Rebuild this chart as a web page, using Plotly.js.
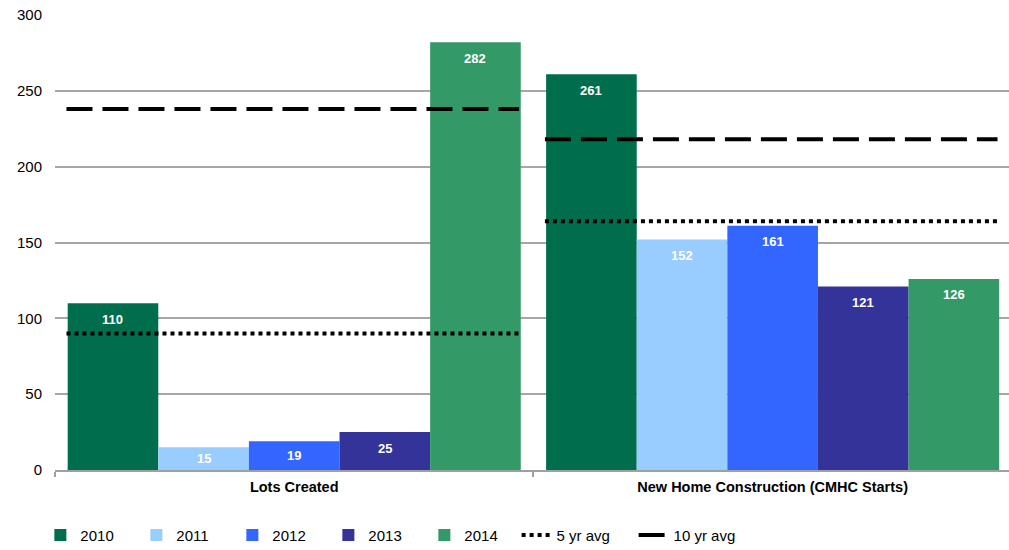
<!DOCTYPE html>
<html>
<head>
<meta charset="utf-8">
<script src="https://cdn.plot.ly/plotly-3.0.1.min.js"></script>
<style>html,body{margin:0;padding:0;background:#fff;}#chart{width:1009px;height:550px;}</style>
</head>
<body>
<div id="chart"></div>
<script>
const categories = ["Lots Created", "New Home Construction (CMHC Starts)"];
const years = ["2010", "2011", "2012", "2013", "2014"];
const values2010 = [110, 261];
const values2011 = [15, 152];
const values2012 = [19, 161];
const values2013 = [25, 121];
const values2014 = [282, 126];
const avg5yr = [90, 164];
const avg10yr = [238, 218];

const seriesValues = [values2010, values2011, values2012, values2013, values2014];
const colors = ["#006E4C", "#99CCFF", "#3366FF", "#333399", "#339966"];
const FONT = "Liberation Sans, Arial, sans-serif";
const BARGAP = 0.053;
const Y_MAX = 300;
const PLOT_H = 550 - 15 - 80;

const traces = years.map((yr, j) => ({
  type: "bar",
  name: yr,
  x: categories,
  y: seriesValues[j],
  marker: {color: colors[j], line: {width: 0}},
  legend: "legend",
  hoverinfo: "skip"
}));

function avgLine(vals) {
  const xs = [], ys = [];
  vals.forEach((v, i) => {
    xs.push(i - 0.476, i + 0.47, null);
    ys.push(v, v, null);
  });
  return {x: xs, y: ys};
}

const a5 = avgLine(avg5yr);
traces.push({
  type: "scatter", mode: "lines", name: "5 yr avg",
  x: a5.x, y: a5.y, xaxis: "x2",
  line: {color: "#000000", width: 4, dash: "4px,4px"},
  legend: "legend2",
  hoverinfo: "skip"
});
const a10 = avgLine(avg10yr);
traces.push({
  type: "scatter", mode: "lines", name: "10 yr avg",
  x: a10.x, y: a10.y, xaxis: "x2",
  line: {color: "#000000", width: 4, dash: "26px,10px"},
  legend: "legend2",
  hoverinfo: "skip"
});

// value labels placed just inside the top of each bar
const groupW = 1 - BARGAP;
const barW = groupW / years.length;
const annotations = [];
seriesValues.forEach((vals, j) => {
  vals.forEach((v, i) => {
    const halfBarPx = v * PLOT_H / Y_MAX / 2;
    annotations.push({
      xref: "x2", yref: "y",
      x: i - groupW / 2 + barW * (j + 0.5), y: v,
      yshift: -Math.min(16, halfBarPx), yanchor: "middle", xanchor: "center",
      text: String(v), showarrow: false,
      font: {family: FONT, size: 13, color: "#ffffff", weight: "bold"}
    });
  });
});

const legendBase = {
  orientation: "h", xref: "container", yref: "container", y: 0.027,
  xanchor: "left", yanchor: "middle",
  bgcolor: "rgba(0,0,0,0)",
  font: {family: FONT, size: 15, color: "#000"},
  itemwidth: 30, traceorder: "normal"
};

const xr = [-0.5, 1.494];
const layout = {
  width: 1009, height: 550,
  margin: {l: 55, r: 0, t: 15, b: 80, autoexpand: false},
  paper_bgcolor: "#ffffff", plot_bgcolor: "#ffffff",
  font: {family: FONT, size: 13, color: "#000000"},
  barmode: "group",
  bargap: BARGAP,
  bargroupgap: 0,
  showlegend: true,
  legend: Object.assign({}, legendBase, {x: 0.04, entrywidth: 51}),
  legend2: Object.assign({}, legendBase, {x: 0.512, entrywidth: 72}),
  annotations: annotations,
  xaxis: {
    type: "category", range: xr, fixedrange: true,
    showline: true, linecolor: "#A0A0A0", linewidth: 2,
    ticks: "outside", tickson: "boundaries", ticklen: 5, tickcolor: "#A0A0A0", tickwidth: 2,
    tickfont: {family: FONT, size: 14.5, color: "#000", weight: "bold"},
    ticklabelstandoff: 3,
    showgrid: false
  },
  xaxis2: {
    overlaying: "x", range: xr, visible: false, fixedrange: true
  },
  yaxis: {
    range: [0, Y_MAX], dtick: 50, fixedrange: true,
    showgrid: true, gridcolor: "#A6A6A6", gridwidth: 2,
    zeroline: false, showline: false, ticks: "",
    tickfont: {family: FONT, size: 15, color: "#000"},
    ticklabelstandoff: 12
  }
};

Plotly.newPlot("chart", traces, layout, {displayModeBar: false, staticPlot: true});
</script>
</body>
</html>
